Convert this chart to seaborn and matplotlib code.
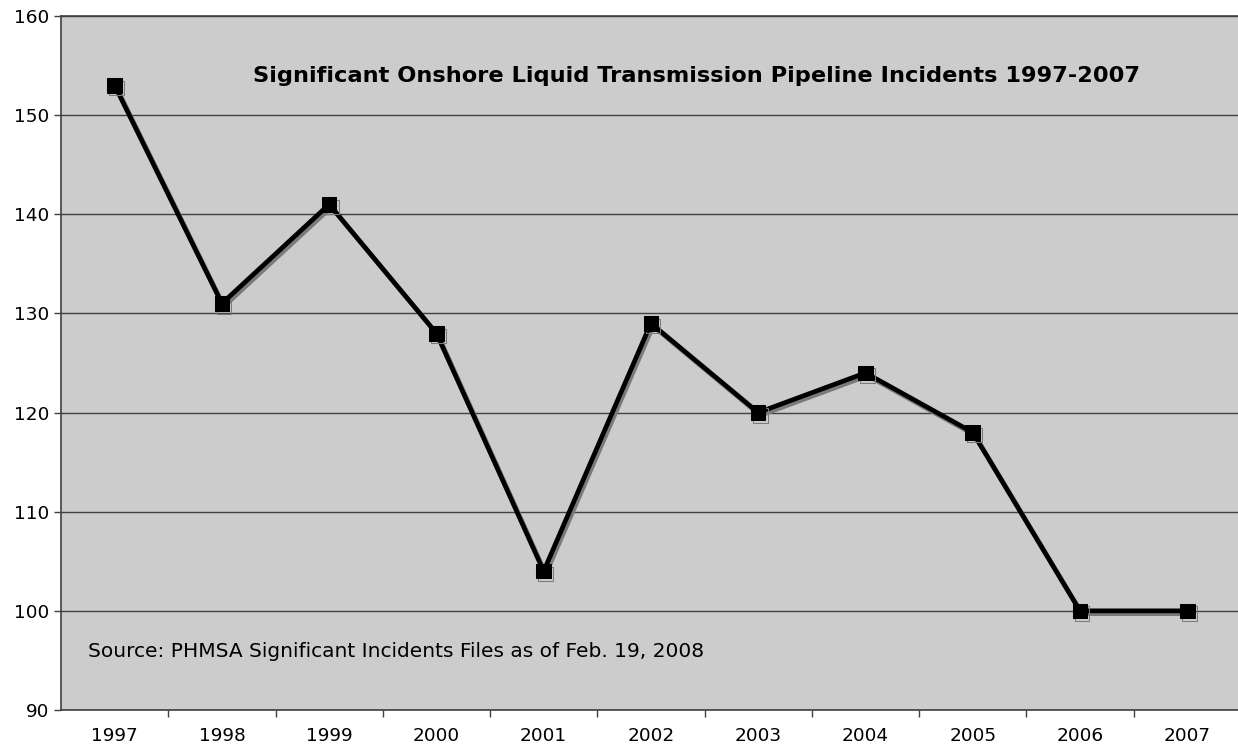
import pandas as pd
import seaborn as sns
import matplotlib.pyplot as plt
import matplotlib.patheffects as pe

years = ['1997', '1998', '1999', '2000', '2001', '2002', '2003', '2004', '2005', '2006', '2007']
incidents = [153, 131, 141, 128, 104, 129, 120, 124, 118, 100, 100]

df = pd.DataFrame({'Year': years, 'Incidents': incidents})

sns.set_style('white')
plt.rcParams['font.family'] = ['DejaVu Sans']
plt.rcParams['text.color'] = 'black'
plt.rcParams['xtick.color'] = 'black'
plt.rcParams['ytick.color'] = 'black'

fig = plt.figure(figsize=(12.38, 7.53), dpi=100)
ax = fig.add_axes([0.0493, 0.0571, 0.953, 0.9217])
ax.set_facecolor('#cccccc')

# line with a grey drop shadow
shadow = [pe.SimpleLineShadow(offset=(1.5, -2), shadow_color='#7a7a7a', alpha=1.0), pe.Normal()]
sns.lineplot(x=range(len(years)), y='Incidents', data=df, ax=ax, color='black',
             linewidth=3.4, marker='s', markersize=10.5, markeredgecolor='black',
             path_effects=shadow)

ax.set_xlim(-0.5, 10.5)
ax.set_ylim(90, 160)
ax.set_yticks(range(90, 161, 10))
# tick marks between years, labels at years
ax.set_xticks([i - 0.5 for i in range(1, 11)])
ax.set_xticklabels([])
ax.set_xticks(range(len(years)), minor=True)
ax.set_xticklabels(years, minor=True)
ax.tick_params(axis='x', which='major', bottom=True, direction='out', length=5, width=1, color='#404040')
ax.tick_params(axis='x', which='minor', bottom=False, length=0, pad=12, labelsize=13.3, labelcolor='black')
ax.tick_params(axis='y', left=True, direction='out', length=5, width=1, color='#404040',
               labelsize=13.3, labelcolor='black')
ax.grid(axis='y', color='#404040', linewidth=1)
ax.set_axisbelow(True)
for s in ['left', 'bottom', 'top']:
    ax.spines[s].set_color('#404040')
    ax.spines[s].set_linewidth(1.2)
ax.spines['right'].set_visible(False)
ax.set_xlabel('')
ax.set_ylabel('')

ax.text(0.539, 0.914, 'Significant Onshore Liquid Transmission Pipeline Incidents 1997-2007',
        transform=ax.transAxes, ha='center', va='center', fontsize=16.2, fontweight='bold',
        color='black')
ax.text(0.023, 0.085, 'Source: PHMSA Significant Incidents Files as of Feb. 19, 2008',
        transform=ax.transAxes, ha='left', va='center', fontsize=14.5, color='black')

plt.savefig('out.png', dpi=100)
